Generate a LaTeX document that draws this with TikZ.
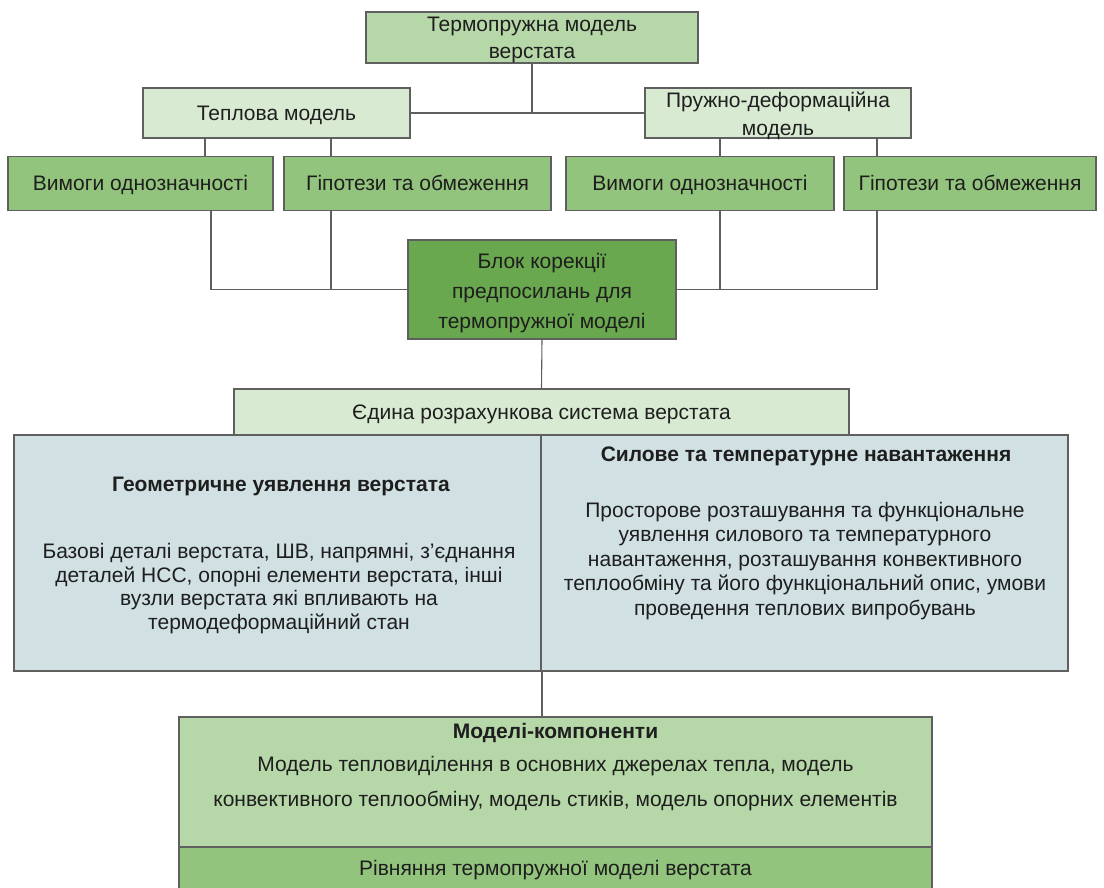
\documentclass[tikz,border=0pt]{standalone}
\usepackage{fontspec}
\setmainfont{Liberation Sans}
\definecolor{edgecol}{HTML}{5F5F5F}
\definecolor{textcol}{HTML}{1E1E1E}
\definecolor{lgreen}{HTML}{D9EAD3}
\definecolor{mgreen}{HTML}{B6D7A8}
\definecolor{sgreen}{HTML}{93C47D}
\definecolor{dgreen}{HTML}{6AA84F}
\definecolor{lblue}{HTML}{D0E0E3}
\begin{document}
\begin{tikzpicture}[x=1pt,y=-1pt,
  box/.style={draw=edgecol, line width=1.1pt, inner sep=0pt, align=center, text=textcol},
  one/.style={text height=15pt, text depth=0pt},
  txt/.style={inner sep=0pt, align=center, text=textcol},
  fn/.style={font=\fontsize{21}{#1}\selectfont},
  bfn/.style={font=\fontsize{21}{#1}\selectfont\bfseries},
  conn/.style={draw=edgecol, line width=1.1pt}]
\useasboundingbox (0,0) rectangle (1104,888);
\fill[white] (0,0) rectangle (1104,888);

% top level
\node[box, fill=mgreen, minimum width=332, minimum height=51] (top) at (532,37.5) {};
\node[txt, fn=27] (topt) at (532,39.5) {Термопружна модель\\верстата};
\node[box, fill=lgreen, minimum width=267, minimum height=50, fn=27, one] (tep) at (276.5,113) {Теплова модель};
\node[box, fill=lgreen, minimum width=266, minimum height=50] (pru) at (778,113) {};
\node[txt, fn=28] (prut) at (778,116) {Пружно-деформаційна\\модель};

% third row
\node[box, fill=sgreen, minimum width=265, minimum height=54, fn=25, one] (vl) at (140.5,183.5) {Вимоги однозначності};
\node[box, fill=sgreen, minimum width=267, minimum height=54, fn=25, one] (gl) at (417.5,183.5) {Гіпотези та обмеження};
\node[box, fill=sgreen, minimum width=268, minimum height=54, fn=25, one] (vr) at (700,183.5) {Вимоги однозначності};
\node[box, fill=sgreen, minimum width=252, minimum height=54, fn=25, one] (gr) at (970,183.5) {Гіпотези та обмеження};

% block
\node[box, fill=dgreen, minimum width=268, minimum height=99] (blk) at (542,289.5) {};
\node[txt, fn=30] (blkt) at (542,293) {Блок корекції\\предпосилань для\\термопружної моделі};

% blue boxes
\node[box, fill=lblue, minimum width=527, minimum height=236] (bl) at (277.5,553) {};
\node[box, fill=lblue, minimum width=527, minimum height=236] (br) at (804.5,553) {};
\node[box, fill=lgreen, minimum width=615, minimum height=46, fn=25, one] (ed) at (541.5,412) {Єдина розрахункова система верстата};

\node[txt, bfn=25] (blt) at (281,486) {Геометричне уявлення верстата};
\node[txt, fn=23.7] (blb) at (279,588.5) {Базові деталі верстата, ШВ, напрямні, з’єднання\\деталей НСС, опорні елементи верстата, інші\\вузли верстата які впливають на\\термодеформаційний стан};
\node[txt, bfn=25] (brt) at (806,456) {Силове та температурне навантаження};
\node[txt, fn=24.5] (brb) at (805,561) {Просторове розташування та функціональне\\уявлення силового та температурного\\навантаження, розташування конвективного\\теплообміну та його функціональний опис, умови\\проведення теплових випробувань};

% bottom
\node[box, fill=mgreen, minimum width=753, minimum height=130] (mod) at (555.5,782) {};
\node[box, fill=sgreen, minimum width=753, minimum height=42, fn=25, one] (riv) at (555.5,868) {Рівняння термопружної моделі верстата};
\node[txt, bfn=25] (modt) at (555.5,733) {Моделі-компоненти};
\node[txt, fn=35] (modb) at (555.5,783.5) {Модель тепловиділення в основних джерелах тепла, модель\\конвективного теплообміну, модель стиків, модель опорних елементів};

% connector coordinates
\coordinate (j1) at (532,113);
\coordinate (xa) at (205,0);
\coordinate (xa2) at (211,0);
\coordinate (xb) at (331,0);
\coordinate (xc) at (720,0);
\coordinate (xd) at (877,0);
\coordinate (xm) at (542,0);

% connectors
\draw[conn] (top.south) -- (j1);
\draw[conn] (tep.east) -- (pru.west);
\draw[conn] (xa |- tep.south) -- (xa |- vl.north);
\draw[conn] (xb |- tep.south) -- (xb |- gl.north);
\draw[conn] (xc |- pru.south) -- (xc |- vr.north);
\draw[conn] (xd |- pru.south) -- (xd |- gr.north);
\draw[conn] (xa2 |- vl.south) -- (xa2 |- blk.west) -- (blk.west);
\draw[conn] (xb |- gl.south) -- (xb |- blk.west);
\draw[conn] (xd |- gr.south) -- (xd |- blk.east) -- (blk.east);
\draw[conn] (xc |- vr.south) -- (xc |- blk.east);
\draw[conn] (blk.south) -- (ed.north);
\draw[conn] (xm |- br.south) -- (xm |- mod.north);
\end{tikzpicture}
\end{document}
